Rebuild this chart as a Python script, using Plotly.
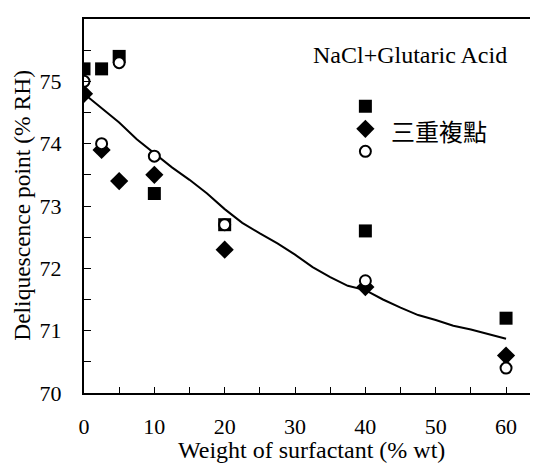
import plotly.graph_objects as go

# Data
weight = [0, 2.5, 5, 10, 20, 40, 60]
dp_square = [75.2, 75.2, 75.4, 73.2, 72.7, 72.6, 71.2]
dp_diamond = [74.8, 73.9, 73.4, 73.5, 72.3, 71.7, 70.6]
dp_circle = [75.0, 74.0, 75.3, 73.8, 72.7, 71.8, 70.4]

fit_x = [0, 2.5, 5, 7.5, 10, 12.5, 15, 17.5, 20, 22.5, 25, 27.5, 30, 32.5, 35,
         37.5, 40, 42.5, 45, 47.5, 50, 52.5, 55, 57.5, 60]
fit_y = [74.80, 74.57, 74.34, 74.07, 73.84, 73.62, 73.42, 73.20, 72.95, 72.73,
         72.56, 72.40, 72.22, 72.02, 71.86, 71.72, 71.65, 71.50, 71.37, 71.25,
         71.17, 71.08, 71.02, 70.94, 70.87]

serif = "Times New Roman"
cjk = "Noto Sans CJK TC"

fig = go.Figure()
fig.add_trace(go.Scatter(x=fit_x, y=fit_y, mode="lines",
                         line=dict(color="black", width=2),
                         showlegend=False, hoverinfo="skip"))
fig.add_trace(go.Scatter(x=weight, y=dp_square, mode="markers", name=" ",
                         marker=dict(symbol="square", size=13, color="black")))
fig.add_trace(go.Scatter(x=weight, y=dp_diamond, mode="markers", name=" ",
                         marker=dict(symbol="diamond", size=14, color="black")))
fig.add_trace(go.Scatter(x=weight, y=dp_circle, mode="markers", name=" ",
                         marker=dict(symbol="circle", size=11, color="white",
                                     line=dict(color="black", width=2))))

fig.add_annotation(text="NaCl+Glutaric Acid", xref="paper", yref="paper",
                   x=0.72, y=0.904, xanchor="center", yanchor="middle",
                   showarrow=False,
                   font=dict(family=serif, size=24, color="black"))
fig.add_annotation(text="三重複點", xref="paper", yref="paper",
                   x=0.784, y=0.703, xanchor="center", yanchor="middle",
                   showarrow=False,
                   font=dict(family=cjk, size=24, color="black"))
# axis titles placed as annotations to keep the plot area fixed
fig.add_annotation(text="Weight of surfactant (% wt)", xref="paper", yref="paper",
                   x=0.502, y=-0.153, xanchor="center", yanchor="middle",
                   showarrow=False,
                   font=dict(family=serif, size=24, color="black"))
fig.add_annotation(text="Deliquescence point (% RH)", xref="paper", yref="paper",
                   x=-0.137, y=0.503, xanchor="center", yanchor="middle",
                   textangle=-90, showarrow=False,
                   font=dict(family=serif, size=23.5, color="black"))

fig.update_layout(
    width=530, height=460,
    margin=dict(l=76, r=1, t=11, b=75),
    paper_bgcolor="white", plot_bgcolor="white",
    font=dict(family=serif, size=22, color="black"),
    legend=dict(x=0.577, y=0.81, xanchor="left", yanchor="top",
                bgcolor="rgba(0,0,0,0)", font=dict(size=15),
                tracegroupgap=0),
)
fig.update_xaxes(range=[0, 64.4], dtick=10, tick0=0, automargin=False,
                 showline=True, linecolor="black", linewidth=2, mirror=True,
                 ticks="inside", ticklen=6, tickwidth=1, tickcolor="black",
                 minor=dict(dtick=5, ticks="inside", ticklen=6, tickwidth=1, tickcolor="black"),
                 showgrid=False, zeroline=False,
                 ticklabelstandoff=13,
                 tickfont=dict(family=serif, size=22))
fig.update_yaxes(range=[70, 76], dtick=1, automargin=False,
                 showline=True, linecolor="black", linewidth=2,
                 ticks="inside", ticklen=7, tickwidth=1, tickcolor="black",
                 minor=dict(dtick=0.5, ticks="inside", ticklen=7, tickwidth=1, tickcolor="black"),
                 showgrid=False, zeroline=False,
                 ticklabelstandoff=16,
                 tickfont=dict(family=serif, size=22))

fig.write_html("out.html")
